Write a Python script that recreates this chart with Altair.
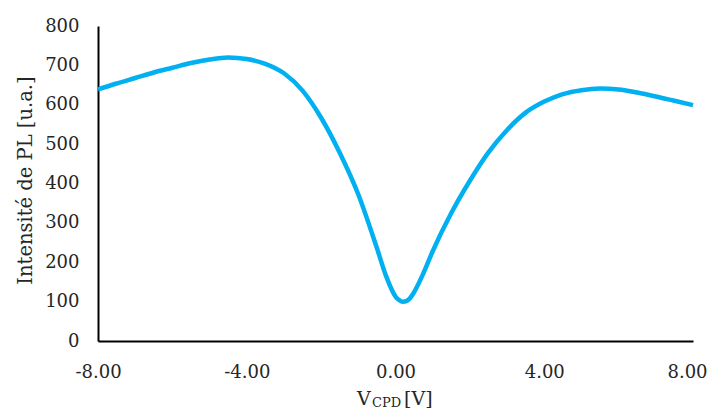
import altair as alt
import pandas as pd

# Data
v_cpd = [-8.0, -7.5, -7.0, -6.5, -6.0, -5.5, -5.0, -4.5, -4.0, -3.5, -3.0, -2.5,
         -2.0, -1.5, -1.0, -0.5, -0.25, 0.0, 0.1, 0.2, 0.3, 0.4, 0.5, 0.75,
         1.0, 1.5, 2.0, 2.5, 3.0, 3.5, 4.0, 4.5, 5.0, 5.5, 6.0, 6.5, 7.0,
         7.5, 8.0]
intensity = [639, 654, 668, 682, 694, 706, 715, 720, 716, 704, 680, 636,
             567, 478, 372, 236, 164, 113, 104, 100, 102, 110, 124, 172,
             228, 325, 407, 479, 536, 580, 608, 627, 637, 641, 639, 631, 621,
             610, 599]

x_ticks = [-8, -4, 0, 4, 8]
y_ticks = [0, 100, 200, 300, 400, 500, 600, 700, 800]

FONT = "DejaVu Serif"
TXT = "#262626"

df = pd.DataFrame({"v": v_cpd, "i": intensity})

line = alt.Chart(df).mark_line(
    color="#00B0F0", strokeWidth=4.5, interpolate="monotone"
).encode(
    x=alt.X("v:Q",
            scale=alt.Scale(domain=[-8, 8], nice=False),
            axis=alt.Axis(values=x_ticks, title=None, grid=False,
                          labelExpr="replace(format(datum.value, '.2f'), '\u2212', '-')",
                          labelOffset={"condition": {"test": "datum.value == 8", "value": -6},
                                       "value": 0},
                          ticks=False, domainColor="black", domainWidth=2,
                          labelFont=FONT, labelFontSize=18, labelColor=TXT,
                          labelPadding=22, labelFlush=False)),
    y=alt.Y("i:Q",
            scale=alt.Scale(domain=[0, 800], nice=False),
            axis=alt.Axis(values=y_ticks, title="Intensité de PL [u.a.]", grid=False,
                          ticks=False, domainColor="black", domainWidth=2,
                          labelFont=FONT, labelFontSize=18, labelColor=TXT,
                          labelPadding=19, titleFont=FONT, titleFontSize=19.5,
                          titleFontWeight="normal", titleColor=TXT, titlePadding=9,
                          titleY=154)),
)

t_v = alt.Chart(pd.DataFrame({"t": ["V"]})).mark_text(
    font=FONT, fontSize=19, color=TXT, align="left", baseline="alphabetic"
).encode(text="t:N", x=alt.value(259), y=alt.value(379))

t_sub = alt.Chart(pd.DataFrame({"t": ["CPD"]})).mark_text(
    font=FONT, fontSize=13, color=TXT, align="left", baseline="alphabetic"
).encode(text="t:N", x=alt.value(274), y=alt.value(380.5))

t_rest = alt.Chart(pd.DataFrame({"t": ["[V]"]})).mark_text(
    font=FONT, fontSize=19, color=TXT, align="left", baseline="alphabetic"
).encode(text="t:N", x=alt.value(306), y=alt.value(379))

chart = alt.layer(line, t_v, t_sub, t_rest).properties(
    width=595, height=315,
    autosize=alt.AutoSizeParams(type="none"),
    padding={"left": 90, "top": 18, "right": 14, "bottom": 72},
).configure_view(stroke=None)

chart.save("out.html", embed_options={"renderer": "svg", "actions": False})
